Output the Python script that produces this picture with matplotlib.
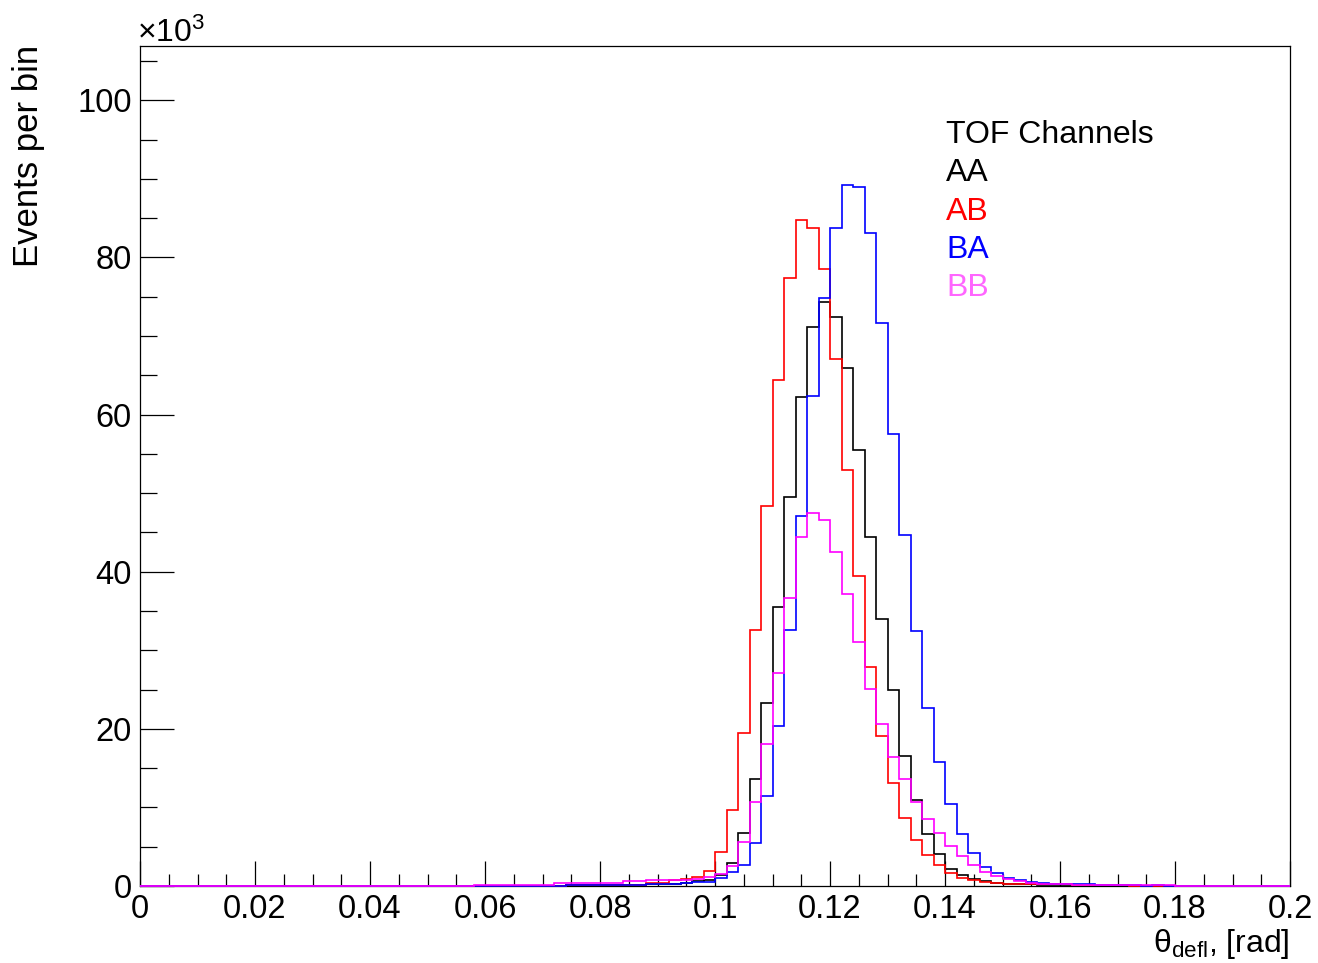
import numpy as np
import matplotlib
matplotlib.use("Agg")
import matplotlib.pyplot as plt
from matplotlib.ticker import MultipleLocator, FuncFormatter

plt.rcParams['font.family'] = ['Liberation Sans', 'DejaVu Sans']
plt.rcParams['mathtext.fontset'] = 'custom'
plt.rcParams['mathtext.rm'] = 'Liberation Sans'
plt.rcParams['mathtext.it'] = 'Liberation Sans'

# ---- data (events per bin, in units of 10^3), bins of width 0.002 from 0 to 0.2 ----
n_bins = 100
x_min, x_max = 0.0, 0.2

series_names = ["AA", "AB", "BA", "BB"]
series_colors = ["#000000", "#ff0000", "#0000ff", "#ff00ff"]
legend_text_colors = ["#000000", "#ff0000", "#0000ff", "#ff66ff"]

# first non-empty bin index for each series, then values bin by bin
aa_start = 37
aa_vals = [0.1, 0.1, 0.1, 0.1, 0.1, 0.1, 0.1, 0.2, 0.2, 0.3, 0.4, 0.6, 0.8,
           1.4, 2.9, 6.7, 13.6, 23.3, 35.5, 49.5, 62.2, 71.1, 74.3, 72.4,
           65.9, 55.5, 44.4, 34.0, 25.0, 16.5, 11.0, 6.6, 4.1, 2.2, 1.4, 0.85,
           0.6, 0.4, 0.3, 0.25, 0.2, 0.15, 0.1, 0.1]

ab_start = 37
ab_vals = [0.1, 0.15, 0.15, 0.15, 0.15, 0.15, 0.15, 0.4, 0.4, 0.7, 0.85, 1.1,
           1.9, 4.3, 9.7, 19.5, 32.6, 48.3, 64.4, 77.4, 84.7, 83.8, 78.5, 67.1,
           52.9, 39.4, 27.9, 19.1, 13.1, 8.7, 5.9, 3.9, 2.7, 1.7, 1.0, 0.8,
           0.5, 0.4, 0.3, 0.3, 0.3, 0.3, 0.2, 0.2, 0.1, 0.1, 0.1, 0.1, 0.1]

ba_start = 29
ba_vals = [0.05, 0.05, 0.05, 0.05, 0.05, 0.05, 0.05, 0.05, 0.12, 0.12, 0.12,
           0.12, 0.12, 0.12, 0.12, 0.25, 0.25, 0.3, 0.4, 0.5, 0.55, 1.05, 1.8,
           2.7, 5.5, 11.4, 20.4, 32.6, 47.1, 62.4, 74.8, 83.8, 89.2, 88.9, 83.1,
           71.6, 57.5, 44.7, 32.4, 22.7, 15.8, 10.4, 6.6, 4.2, 2.45, 1.6, 1.0,
           0.8, 0.5, 0.35, 0.3, 0.2, 0.2, 0.2, 0.12, 0.12, 0.12, 0.12, 0.05,
           0.12]

bb_start = 29
bb_vals = [0.17, 0.17, 0.17, 0.17, 0.17, 0.17, 0.17, 0.34, 0.4, 0.4, 0.4, 0.4,
           0.4, 0.6, 0.6, 0.7, 0.7, 0.8, 0.75, 0.9, 1.2, 1.5, 2.6, 5.6, 10.7,
           18.1, 27.1, 36.7, 44.4, 47.5, 46.6, 42.5, 37.1, 31.0, 25.1, 20.6,
           16.4, 13.6, 10.7, 8.5, 6.7, 5.1, 3.8, 2.7, 1.8, 1.3, 0.85, 0.6, 0.4,
           0.3, 0.3, 0.3, 0.15, 0.15, 0.15, 0.15, 0.15, 0.15, 0.15, 0.15, 0.15,
           0.05, 0.05, 0.05, 0.05, 0.05, 0.05, 0.05, 0.05, 0.05, 0.05]

x_ticks = [0, 0.02, 0.04, 0.06, 0.08, 0.1, 0.12, 0.14, 0.16, 0.18, 0.2]
y_ticks = [0, 20, 40, 60, 80, 100]


def full_hist(start, vals):
    h = np.zeros(n_bins)
    h[start:start + len(vals)] = vals
    return h


hists = [full_hist(aa_start, aa_vals), full_hist(ab_start, ab_vals),
         full_hist(ba_start, ba_vals), full_hist(bb_start, bb_vals)]
edges = np.linspace(x_min, x_max, n_bins + 1)

W, H = 1318, 963
fig = plt.figure(figsize=(W / 100, H / 100), dpi=100)
ax = fig.add_axes([140 / W, 1 - 886 / H, 1150 / W, 840 / H])

for h, c in zip(hists, series_colors):
    ax.stairs(h, edges, color=c, lw=1.2, zorder=3, clip_on=False)

ax.set_xlim(x_min, x_max)
ax.set_ylim(0, 106.9)

ax.set_xticks(x_ticks)
ax.xaxis.set_major_formatter(FuncFormatter(lambda v, p: "%g" % round(v, 3)))
ax.xaxis.set_minor_locator(MultipleLocator(0.005))
ax.set_yticks(y_ticks)
ax.yaxis.set_major_formatter(FuncFormatter(lambda v, p: "%g" % v))
ax.yaxis.set_minor_locator(MultipleLocator(5))

ax.tick_params(axis='both', which='both', direction='in', top=False, right=False,
               width=0.9, color='black')
ax.tick_params(axis='x', which='major', length=18, labelsize=23.5, pad=6)
ax.tick_params(axis='x', which='minor', length=9)
ax.tick_params(axis='y', which='major', length=24.5, labelsize=23.5, pad=6)
ax.tick_params(axis='y', which='minor', length=12)
for s in ax.spines.values():
    s.set_linewidth(0.9)

# exponent label
fig.text(137 / W, 1 - 42 / H, "×10$^{3}$", fontsize=23, ha='left', va='baseline')

# axis titles
fig.text(29 / W, 1 - 45 / H, "Events per bin", rotation=90, fontsize=25,
         ha='center', va='top')
fig.text(1290 / W, 1 - 952 / H, r"θ$_{\mathrm{defl}}$, [rad]", fontsize=23,
         ha='right', va='baseline')

# legend text
fig.text(946 / W, 1 - 143 / H, "TOF Channels", fontsize=23, color='black',
         ha='left', va='baseline')
for i, (name, tc) in enumerate(zip(series_names, legend_text_colors)):
    fig.text(946 / W, 1 - (181 + 38.5 * i) / H, name, fontsize=23, color=tc,
             ha='left', va='baseline')

fig.savefig("out.png", dpi=100)
